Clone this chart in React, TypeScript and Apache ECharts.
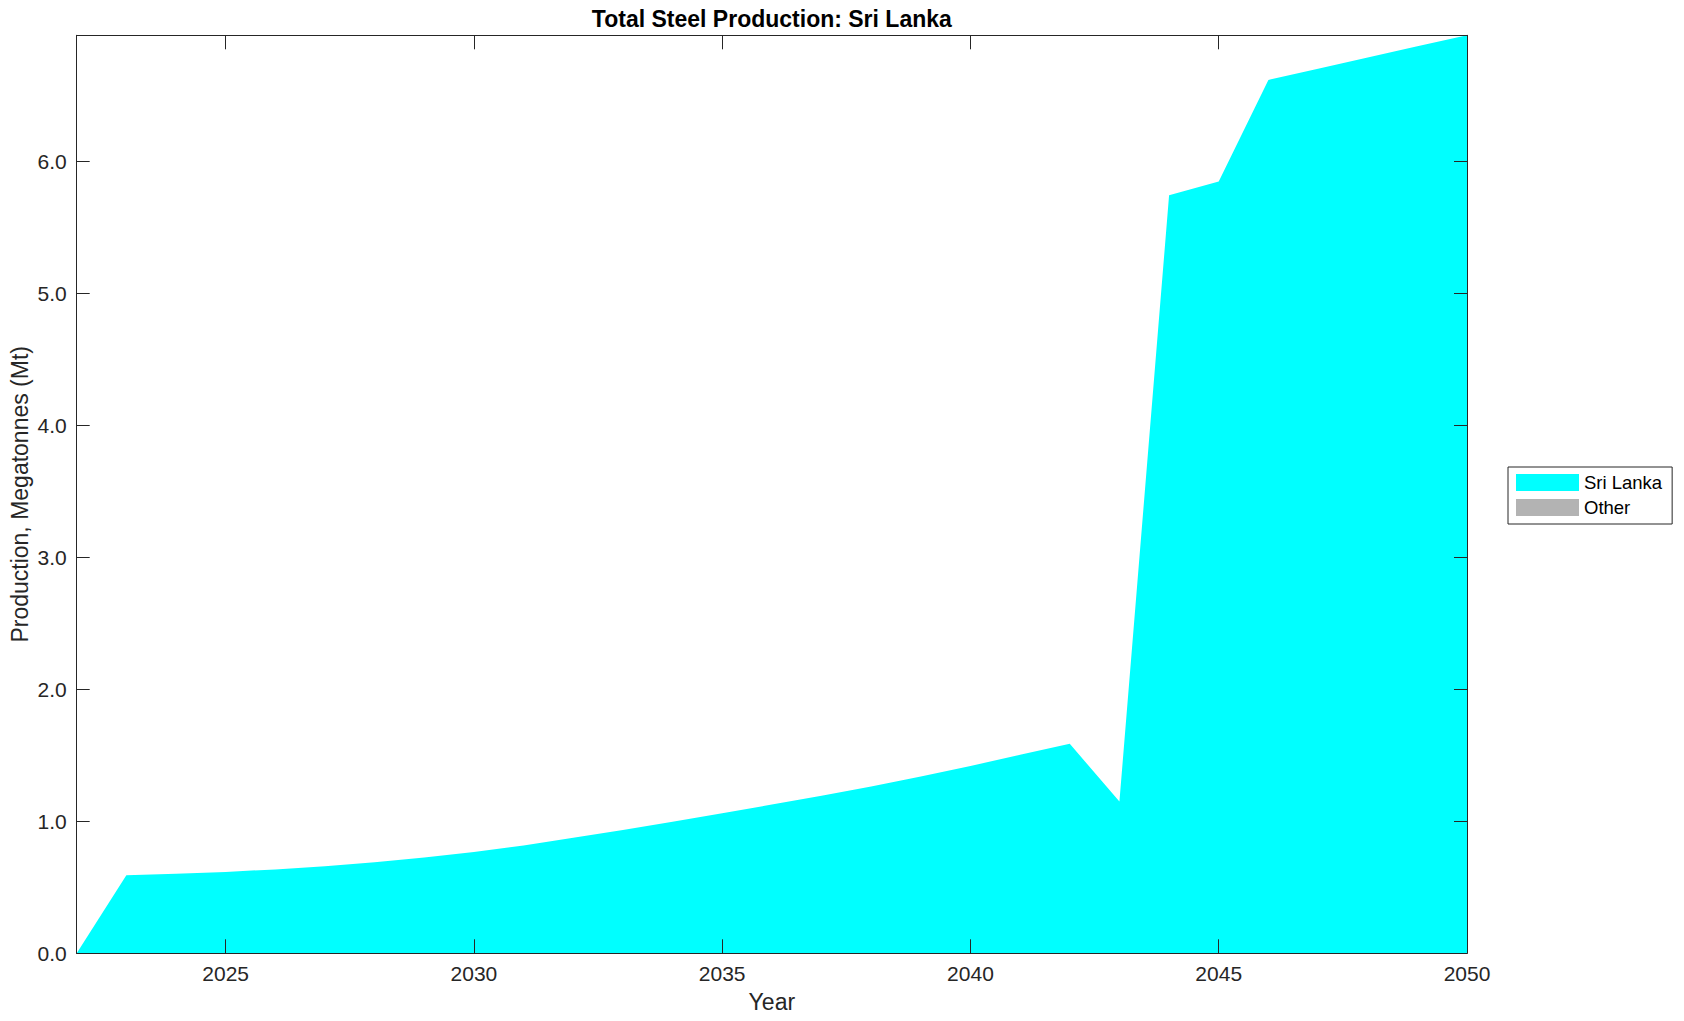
import React, { useEffect, useRef } from "react";
import * as echarts from "echarts";

const years = [2022, 2023, 2024, 2025, 2026, 2027, 2028, 2029, 2030, 2031, 2032, 2033, 2034, 2035, 2036, 2037, 2038, 2039, 2040, 2041, 2042, 2043, 2044, 2045, 2046, 2047, 2048, 2049, 2050];
const sriLanka = [0, 0.592, 0.603, 0.617, 0.636, 0.66, 0.69, 0.727, 0.768, 0.818, 0.875, 0.935, 0.997, 1.062, 1.127, 1.195, 1.265, 1.34, 1.42, 1.504, 1.588, 1.15, 5.745, 5.85, 6.62, 6.705, 6.79, 6.875, 6.958];
const other = [0, 0, 0, 0, 0, 0, 0, 0, 0, 0, 0, 0, 0, 0, 0, 0, 0, 0, 0, 0, 0, 0, 0, 0, 0, 0, 0, 0, 0];
const xTicks = [2025, 2030, 2035, 2040, 2045, 2050];
const yTicks = [0, 1, 2, 3, 4, 5, 6];
const seriesNames = ["Sri Lanka", "Other"];
const titleText = "Total Steel Production: Sri Lanka";
const xName = "Year";
const yName = "Production, Megatonnes (Mt)";

const FONT = "'Liberation Sans', Arial, Helvetica, sans-serif";
const AX = "#262626";

export default function App() {
  const ref = useRef<HTMLDivElement>(null);
  useEffect(() => {
    if (!ref.current) return;
    const chart = echarts.init(ref.current, null, { renderer: "svg" });
    const gridLeft = 76.7;
    const gridRight = 217;
    const gridTop = 35.3;
    const gridBottom = 67.7;
    const yMax = Math.max(...sriLanka);
    const commonX = {
      type: "value",
      min: years[0],
      max: years[years.length - 1],
      splitLine: { show: false },
      axisLine: { show: true, onZero: false, lineStyle: { color: AX, width: 1 } },
      z: 10,
    };
    const commonY = {
      type: "value",
      min: 0,
      max: yMax,
      splitLine: { show: false },
      axisLine: { show: true, onZero: false, lineStyle: { color: AX, width: 1 } },
      z: 10,
    };
    chart.setOption({
      animation: false,
      backgroundColor: "#ffffff",
      textStyle: { fontFamily: FONT },
      grid: {
        left: gridLeft,
        right: gridRight,
        top: gridTop,
        bottom: gridBottom,
        containLabel: false,
        outerBoundsMode: "none",
      },
      graphic: [
        {
          type: "text",
          x: gridLeft + (1684 - gridLeft - gridRight) / 2,
          y: 7,
          style: {
            text: titleText,
            fontFamily: FONT,
            fontSize: 23,
            fontWeight: "bold",
            fill: "#000",
            textAlign: "center",
            textVerticalAlign: "top",
          },
          z: 20,
        },
      ],
      legend: {
        data: seriesNames,
        orient: "vertical",
        left: 1508,
        top: 467,
        padding: [6, 10, 7, 8],
        itemGap: 6,
        itemWidth: 63,
        itemHeight: 17,
        icon: "rect",
        borderColor: AX,
        borderWidth: 1,
        backgroundColor: "#ffffff",
        textStyle: { fontFamily: FONT, fontSize: 18.5, color: "#000" },
      },
      xAxis: [
        {
          ...commonX,
          position: "bottom",
          name: xName,
          nameLocation: "middle",
          nameGap: 37,
          nameMoveOverlap: false,
          nameTextStyle: { fontFamily: FONT, fontSize: 23, color: AX },
          axisTick: { show: true, inside: true, length: 14, customValues: xTicks, lineStyle: { color: AX } },
          axisLabel: {
            show: true,
            customValues: xTicks,
            margin: 10,
            fontSize: 21,
            color: AX,
            fontFamily: FONT,
            formatter: (v: number) => String(v),
          },
        },
        {
          ...commonX,
          position: "top",
          axisTick: { show: true, inside: true, length: 14, customValues: xTicks, lineStyle: { color: AX } },
          axisLabel: { show: false },
        },
      ],
      yAxis: [
        {
          ...commonY,
          position: "left",
          name: yName,
          nameLocation: "middle",
          nameGap: 45,
          nameMoveOverlap: false,
          nameTextStyle: { fontFamily: FONT, fontSize: 23, color: AX },
          axisTick: { show: true, inside: true, length: 13, customValues: yTicks, lineStyle: { color: AX } },
          axisLabel: {
            show: true,
            customValues: yTicks,
            margin: 10,
            fontSize: 21,
            color: AX,
            fontFamily: FONT,
            formatter: (v: number) => v.toFixed(1),
          },
        },
        {
          ...commonY,
          position: "right",
          axisTick: { show: true, inside: true, length: 13, customValues: yTicks, lineStyle: { color: AX } },
          axisLabel: { show: false },
        },
      ],
      series: [
        {
          name: seriesNames[0],
          type: "line",
          data: years.map((y, i) => [y, sriLanka[i]]),
          showSymbol: false,
          symbol: "none",
          color: "#00ffff",
          itemStyle: { color: "#00ffff" },
          lineStyle: { width: 0, color: "#00ffff" },
          areaStyle: { color: "#00ffff", opacity: 1 },
          z: 3,
          silent: true,
        },
        {
          name: seriesNames[1],
          type: "line",
          data: years.map((y, i) => [y, other[i]]),
          showSymbol: false,
          symbol: "none",
          color: "#b3b3b3",
          itemStyle: { color: "#b3b3b3" },
          lineStyle: { width: 0, color: "#b3b3b3" },
          areaStyle: { color: "#b3b3b3", opacity: 1 },
          z: 2,
          silent: true,
        },
      ],
    });
    return () => chart.dispose();
  }, []);
  return (
    <div
      ref={ref}
      style={{ position: "fixed", left: 0, top: 0, width: 1684, height: 1021, background: "#fff" }}
    />
  );
}
